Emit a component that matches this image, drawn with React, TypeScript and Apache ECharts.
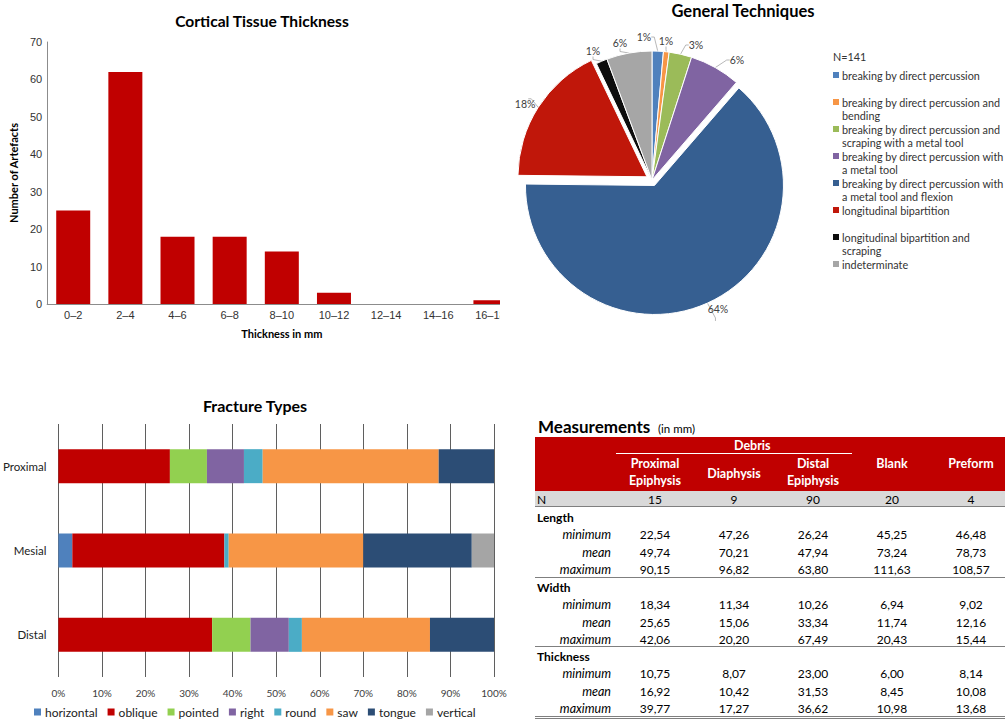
import React, { useEffect, useRef } from "react";
import * as echarts from "echarts";

// ---------- Cortical tissue thickness ----------
const thicknessCats = ["0–2", "2–4", "4–6", "6–8", "8–10", "10–12", "12–14", "14–16", "16–18"];
const thicknessCounts = [25, 62, 18, 18, 14, 3, 0, 0, 1];

// ---------- General techniques ----------
const techNames = [
  "breaking by direct percussion",
  "breaking by direct percussion and bending",
  "breaking by direct percussion and scraping with a metal tool",
  "breaking by direct percussion with a metal tool",
  "breaking by direct percussion with a metal tool and flexion",
  "longitudinal bipartition",
  "longitudinal bipartition and scraping",
  "indeterminate",
];
const techLegendLines = [
  ["breaking by direct percussion"],
  ["breaking by direct percussion and", "bending"],
  ["breaking by direct percussion and", "scraping with a metal tool"],
  ["breaking by direct percussion with", "a metal tool"],
  ["breaking by direct percussion with", "a metal tool and flexion"],
  ["longitudinal bipartition"],
  ["longitudinal bipartition and", "scraping"],
  ["indeterminate"],
];
const techCounts = [2, 1, 4, 9, 90, 25, 2, 8];
const techExploded = [false, false, false, false, true, true, false, false];
const techColors = ["#4F81BD", "#F79646", "#9BBB59", "#8064A2", "#365F91", "#C0170A", "#0D0D0D", "#A6A6A6"];
const techTotalLabel = "N=141";

// ---------- Fracture types ----------
const fracCats = ["Proximal", "Mesial", "Distal"];
const fracTypes = ["horizontal", "oblique", "pointed", "right", "round", "saw", "tongue", "vertical"];
const fracHorizontal = [0, 3.2, 0];
const fracOblique = [25.6, 34.9, 35.3];
const fracPointed = [8.5, 0, 8.8];
const fracRight = [8.5, 0, 8.8];
const fracRound = [4.3, 1.0, 3.0];
const fracSaw = [40.4, 30.9, 29.4];
const fracTongue = [12.7, 24.9, 14.7];
const fracVertical = [0, 5.1, 0];
const fracValues = [fracHorizontal, fracOblique, fracPointed, fracRight, fracRound, fracSaw, fracTongue, fracVertical];
const fracColors = ["#4F81BD", "#C00000", "#92D050", "#8064A2", "#4BACC6", "#F79646", "#2C4D75", "#A5A5A5"];

// ---------- Measurements table ----------
const tableGroupLabel = "Debris";
const tableCols = ["Proximal\nEpiphysis", "Diaphysis", "Distal\nEpiphysis", "Blank", "Preform"];
const tableN = [15, 9, 90, 20, 4];
const statLabels = ["minimum", "mean", "maximum"];
const lengthMin = [22.54, 47.26, 26.24, 45.25, 46.48];
const lengthMean = [49.74, 70.21, 47.94, 73.24, 78.73];
const lengthMax = [90.15, 96.82, 63.8, 111.63, 108.57];
const widthMin = [18.34, 11.34, 10.26, 6.94, 9.02];
const widthMean = [25.65, 15.06, 33.34, 11.74, 12.16];
const widthMax = [42.06, 20.2, 67.49, 20.43, 15.44];
const thickMin = [10.75, 8.07, 23.0, 6.0, 8.14];
const thickMean = [16.92, 10.42, 31.53, 8.45, 10.08];
const thickMax = [39.77, 17.27, 36.62, 10.98, 13.68];
const tableSections = [
  { name: "Length", rows: [lengthMin, lengthMean, lengthMax] },
  { name: "Width", rows: [widthMin, widthMean, widthMax] },
  { name: "Thickness", rows: [thickMin, thickMean, thickMax] },
];

const CAL = "Lato";
const ARIAL = "Liberation Sans";

// label anchor positions of the pie's percentage labels (layout only)
const pieLabelPos: [number, number, string][] = [
  [644, 37, "center"],
  [666, 41, "center"],
  [696, 45, "center"],
  [737, 60, "center"],
  [713, 321, "center"],
  [523, 102, "center"],
  [593, 51, "center"],
  [620, 43, "center"],
];

function fmt(v: number) {
  return v.toFixed(2).replace(".", ",");
}

function txt(x: number, y: number, text: string, opts: any = {}) {
  const align = opts.align || "left";
  return {
    type: "text",
    x,
    y,
    silent: true,
    style: {
      text,
      fill: opts.fill || "#000",
      fontSize: opts.fontSize || 12,
      fontFamily: opts.fontFamily || CAL,
      fontWeight: opts.fontWeight || "normal",
      fontStyle: opts.fontStyle || "normal",
      lineHeight: opts.lineHeight,
      align,
      textAlign: align,
      verticalAlign: "middle",
      textVerticalAlign: "middle",
    },
  };
}

function hline(x1: number, x2: number, y: number, color: string, width = 1) {
  return { type: "line", silent: true, shape: { x1, y1: y, x2, y2: y }, style: { stroke: color, lineWidth: width } };
}

function buildGraphics() {
  const g: any[] = [];
  // Pie legend
  g.push(txt(833, 56, techTotalLabel, { fontSize: 10.8, fill: "#333" }));
  techLegendLines.forEach((lines, i) => {
    const y = 75 + i * 27;
    g.push({ type: "rect", silent: true, shape: { x: 833, y: y - 3, width: 6, height: 6 }, style: { fill: techColors[i] } });
    lines.forEach((ln, j) => g.push(txt(842, y + j * 13.5, ln, { fontSize: 10.8, fill: "#333" })));
  });

  // Table
  const colX = [655, 734, 813, 892, 971];
  g.push(txt(538, 426, "Measurements", { fontSize: 17, fontWeight: "bold" }));
  g.push(txt(658, 428, "(in mm)", { fontSize: 11.5 }));
  g.push({ type: "rect", silent: true, shape: { x: 535, y: 437, width: 470, height: 54 }, style: { fill: "#C00000" } });
  g.push({ type: "rect", silent: true, shape: { x: 535, y: 491, width: 470, height: 15 }, style: { fill: "#D9D9D9" } });
  g.push(txt(734, 445, tableGroupLabel, { fill: "#fff", fontWeight: "bold", fontSize: 12.5 }));
  g.push(hline(616, 852, 453.5, "#ffffff", 1));
  tableCols.forEach((c, i) => {
    const y = c.indexOf("\n") >= 0 ? 472 : i < 3 ? 473 : 463;
    g.push(txt(colX[i], y, c, { fill: "#fff", fontWeight: "bold", fontSize: 12.5, align: "center", lineHeight: 17.5 }));
  });
  g.push(txt(537, 499, "N", {}));
  tableN.forEach((n, i) => g.push(txt(colX[i], 499, String(n), { align: "center" })));
  g.push(hline(535, 1005, 506.5, "#7f7f7f", 1));
  const sectionY = [517, 587, 656];
  tableSections.forEach((s, si) => {
    const y0 = sectionY[si];
    g.push(txt(537, y0, s.name, { fontWeight: "bold" }));
    s.rows.forEach((row, ri) => {
      const y = y0 + 17.5 * (ri + 1);
      g.push(txt(611, y, statLabels[ri], { fontStyle: "italic", align: "right", fontSize: 12.5 }));
      row.forEach((v, ci) => g.push(txt(colX[ci], y, fmt(v), { align: "center" })));
    });
  });
  g.push(hline(535, 1005, 577.5, "#7f7f7f", 1));
  g.push(hline(535, 1005, 646.5, "#7f7f7f", 1));
  g.push(hline(535, 1005, 716.5, "#7f7f7f", 1));
  g.push(hline(535, 1005, 718.5, "#7f7f7f", 1));
  return g;
}

export default function App() {
  const barRef = useRef<HTMLDivElement>(null);
  const mainRef = useRef<HTMLDivElement>(null);

  useEffect(() => {
    const bar = echarts.init(barRef.current!, null, { renderer: "svg" });
    bar.setOption({
      animation: false,
      title: {
        text: "Cortical Tissue Thickness",
        left: 262,
        top: 13,
        padding: 0,
        textAlign: "center",
        textStyle: { fontFamily: CAL, fontSize: 15.6, fontWeight: "bold", color: "#000" },
      },
      grid: { left: 44, top: 42, width: 472.5, height: 262, containLabel: false },
      xAxis: {
        type: "category",
        data: thicknessCats,
        axisLine: { lineStyle: { color: "#8c8c8c" } },
        axisTick: { show: false },
        axisLabel: { color: "#333", fontSize: 11, fontFamily: ARIAL, margin: 5, interval: 0 },
        name: "Thickness in mm",
        nameLocation: "middle",
        nameGap: 24,
        nameTextStyle: { fontFamily: CAL, fontSize: 11, fontWeight: "bold", color: "#000" },
      },
      yAxis: {
        type: "value",
        min: 0,
        max: 70,
        interval: 10,
        splitLine: { show: false },
        axisLine: { show: true, lineStyle: { color: "#8c8c8c" } },
        axisTick: { show: false },
        axisLabel: { color: "#333", fontSize: 11, fontFamily: ARIAL, margin: 5 },
        name: "Number of Artefacts",
        nameLocation: "middle",
        nameGap: 24,
        nameRotate: 90,
        nameTextStyle: { fontFamily: CAL, fontSize: 11, fontWeight: "bold", color: "#000" },
      },
      series: [
        {
          type: "bar",
          data: thicknessCounts,
          barWidth: 34,
          itemStyle: { color: "#C00000" },
        },
      ],
    });

    const main = echarts.init(mainRef.current!, null, { renderer: "svg" });
    main.setOption({
      animation: false,
      title: [
        {
          text: "General Techniques",
          left: 743,
          top: 2,
          padding: 0,
          textAlign: "center",
          textStyle: { fontFamily: CAL, fontSize: 16.5, fontWeight: "bold", color: "#000" },
        },
        {
          text: "Fracture Types",
          left: 255,
          top: 397,
          padding: 0,
          textAlign: "center",
          textStyle: { fontFamily: CAL, fontSize: 16, fontWeight: "bold", color: "#000" },
        },
      ],
      legend: {
        data: fracTypes,
        left: 34,
        top: 706,
        padding: 0,
        itemWidth: 7,
        itemHeight: 7,
        itemGap: 10,
        icon: "rect",
        textStyle: { fontFamily: CAL, fontSize: 12, color: "#222", padding: [0, 0, 0, -1] },
      },
      grid: { left: 58, top: 424, width: 436, height: 253 },
      xAxis: {
        type: "value",
        min: 0,
        max: 100,
        interval: 10,
        axisLine: { show: false },
        axisTick: { show: false },
        splitLine: { show: true, lineStyle: { color: "#5f5f5f", width: 1 } },
        axisLabel: { formatter: "{value}%", fontFamily: CAL, fontSize: 10, color: "#404040", margin: 11 },
      },
      yAxis: {
        type: "category",
        data: fracCats,
        inverse: true,
        axisLine: { show: false },
        axisTick: { show: false },
        axisLabel: { fontFamily: CAL, fontSize: 11.5, color: "#222", margin: 12 },
      },
      series: [
        ...fracTypes.map((t, i) => ({
          type: "bar",
          name: t,
          stack: "frac",
          data: fracValues[i],
          barWidth: 34,
          itemStyle: { color: fracColors[i] },
        })),
        {
          type: "pie",
          name: "General Techniques",
          center: [652, 180],
          radius: 129,
          startAngle: 90,
          clockwise: true,
          selectedMode: "multiple",
          selectedOffset: 6,
          avoidLabelOverlap: false,
          itemStyle: { borderColor: "#fff", borderWidth: 1 },
          label: {
            show: true,
            position: "outside",
            fontFamily: CAL,
            fontSize: 10.5,
            color: "#404040",
            formatter: (p: any) => Math.round(p.percent) + "%",
          },
          labelLine: { show: true, length: 6, length2: 3, lineStyle: { color: "#a6a6a6", width: 0.8 } },
          labelLayout: (params: any) => {
            const p = pieLabelPos[params.dataIndex];
            return { x: p[0], y: p[1], align: p[2], verticalAlign: "middle" };
          },
          emphasis: { disabled: true },
          data: techNames.map((n, i) => ({
            name: n,
            value: techCounts[i],
            selected: techExploded[i],
            itemStyle: { color: techColors[i] },
          })),
        },
      ],
      graphic: buildGraphics(),
    });

    return () => {
      bar.dispose();
      main.dispose();
    };
  }, []);

  return (
    <div style={{ position: "absolute", left: 0, top: 0, width: 1005, height: 719, background: "#fff", overflow: "hidden" }}>
      <div ref={mainRef} style={{ position: "absolute", left: 0, top: 0, width: 1005, height: 719 }} />
      <div style={{ position: "absolute", left: 0, top: 0, width: 500, height: 360, overflow: "hidden" }}>
        <div ref={barRef} style={{ position: "absolute", left: 0, top: 0, width: 524, height: 360 }} />
      </div>
    </div>
  );
}
